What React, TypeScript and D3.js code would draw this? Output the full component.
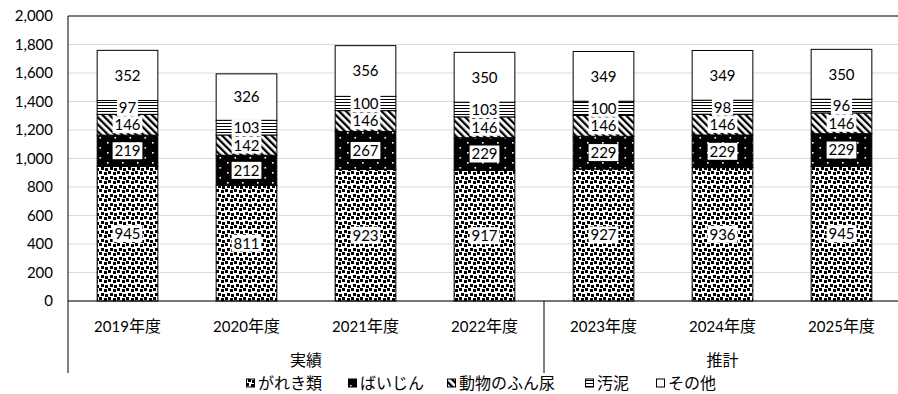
import React from 'react';
import * as d3 from 'd3';

const years = ['2019年度', '2020年度', '2021年度', '2022年度', '2023年度', '2024年度', '2025年度'];
const groups = [
  { name: '実績', from: 0, to: 3 },
  { name: '推計', from: 4, to: 6 },
];
const seriesNames = ['がれき類', 'ばいじん', '動物のふん尿', '汚泥', 'その他'];
const gareki = [945, 811, 923, 917, 927, 936, 945];
const baijin = [219, 212, 267, 229, 229, 229, 229];
const funnyo = [146, 142, 146, 146, 146, 146, 146];
const odei = [97, 103, 100, 103, 100, 98, 96];
const sonota = [352, 326, 356, 350, 349, 349, 350];
const yTicks = [0, 200, 400, 600, 800, 1000, 1200, 1400, 1600, 1800, 2000];

const W = 898;
const H = 394;
const left = 68;
const right = 901;
const top = 16;
const bottom = 301;

const fills = ['url(#pGareki)', 'url(#pBaijin)', 'url(#pFunnyo)', 'url(#pOdei)', '#fff'];
const font = 'Lato, "Noto Sans CJK JP", sans-serif';
const jpFont = '"Noto Sans CJK JP", sans-serif';
const fs = 15;
const jfs = 16;

export default function App() {
  const rows = years.map((y, i) => ({
    year: y,
    'がれき類': gareki[i],
    'ばいじん': baijin[i],
    '動物のふん尿': funnyo[i],
    '汚泥': odei[i],
    'その他': sonota[i],
  }));
  const stack = d3.stack<any>().keys(seriesNames)(rows);

  const x = d3.scaleBand().domain(years).range([left, right]).paddingInner(0.49).paddingOuter(0.245);
  const y = d3.scaleLinear().domain([0, 2000]).range([bottom, top]);
  const step = x.step();
  const fmt = d3.format(',');

  const sepX = (i: number) => left + step * i;
  // legend marker positions
  const legendX = [246, 348, 447, 585, 656];

  return (
    <svg width={W} height={H} style={{ position: 'absolute', left: 0, top: 0 }} fontFamily={font}>
      <defs>
        <pattern id="pGareki" width="9" height="9" patternUnits="userSpaceOnUse" shapeRendering="crispEdges">
          <rect width="9" height="9" fill="#fff" />
          <rect x="0" y="0" width="3" height="3" fill="#000" />
          <rect x="5" y="1" width="3" height="3" fill="#000" />
          <rect x="2" y="5" width="3" height="3" fill="#000" />
          <rect x="6" y="6" width="3" height="3" fill="#000" />
        </pattern>
        <pattern id="pBaijin" width="15" height="10" patternUnits="userSpaceOnUse">
          <rect width="15" height="10" fill="#000" />
          <rect x="2" y="2" width="1.6" height="1.6" fill="#fff" />
          <rect x="9.5" y="7" width="1.6" height="1.6" fill="#fff" />
        </pattern>
        <pattern id="pFunnyo" width="5" height="5" patternUnits="userSpaceOnUse" patternTransform="rotate(-45)">
          <rect width="5" height="5" fill="#fff" />
          <rect width="2.3" height="5" fill="#000" />
        </pattern>
        <pattern id="pOdei" width="4" height="3" patternUnits="userSpaceOnUse">
          <rect width="4" height="3" fill="#fff" />
          <rect width="4" height="1" fill="#000" />
        </pattern>
      </defs>

      {/* gridlines */}
      {yTicks.map(t => (
        <line key={t} x1={left} x2={right} y1={y(t)} y2={y(t)} stroke={t === 2000 ? '#000' : '#d9d9d9'} strokeWidth={1} />
      ))}
      {yTicks.map(t => (
        <text key={'l' + t} x={53} y={y(t)} dy="0.35em" textAnchor="end" fontSize={fs} fill="#000">{fmt(t)}</text>
      ))}

      {/* bars */}
      {stack.map((s, si) => (
        <g key={s.key}>
          {s.map((d, i) => (
            <rect key={i} x={x(years[i])} width={x.bandwidth()} y={y(d[1])} height={y(d[0]) - y(d[1])}
              fill={fills[si]} stroke="#000" strokeWidth={1} />
          ))}
        </g>
      ))}

      {/* data labels */}
      {stack.map((s, si) => (
        <g key={'lab' + s.key}>
          {s.map((d, i) => {
            const v = d[1] - d[0];
            const cx = x(years[i])! + x.bandwidth() / 2;
            const cy = (y(d[0]) + y(d[1])) / 2;
            const bw = String(v).length * 8.6 + 4;
            return (
              <g key={i}>
                <rect x={cx - bw / 2} y={cy - 8.5} width={bw} height={17} fill="#fff" />
                <text x={cx} y={cy} dy="0.36em" textAnchor="middle" fontSize={fs} fill="#000">{v}</text>
              </g>
            );
          })}
        </g>
      ))}

      {/* axes */}
      <line x1={left} x2={left} y1={top} y2={bottom} stroke="#000" />
      <line x1={left} x2={right} y1={bottom} y2={bottom} stroke="#000" />
      {[0, 4, 7].map(i => (
        <line key={'sep' + i} x1={sepX(i)} x2={sepX(i)} y1={bottom} y2={373} stroke="#000" />
      ))}
      {years.map(yr => (
        <text key={yr} x={x(yr)! + x.bandwidth() / 2} y={327} dy="0.35em" textAnchor="middle" fontSize={fs} fill="#000">
          {yr.slice(0, 4)}<tspan fontFamily={jpFont} fontSize={jfs}>{yr.slice(4)}</tspan>
        </text>
      ))}
      {groups.map(g => (
        <text key={g.name} x={(sepX(g.from) + sepX(g.to + 1)) / 2} y={360} dy="0.35em" textAnchor="middle" fontSize={jfs}
          fontFamily={jpFont} fill="#000">{g.name}</text>
      ))}

      {/* legend */}
      {seriesNames.map((n, i) => (
        <g key={n} transform={`translate(${legendX[i]},383)`}>
          <rect x={0.5} y={-4} width={8} height={8} fill={fills[i]} stroke="#000" strokeWidth={1} />
          <text x={12} y={0} dy="0.35em" fontSize={jfs} fontFamily={jpFont} fill="#000">{n}</text>
        </g>
      ))}
    </svg>
  );
}
